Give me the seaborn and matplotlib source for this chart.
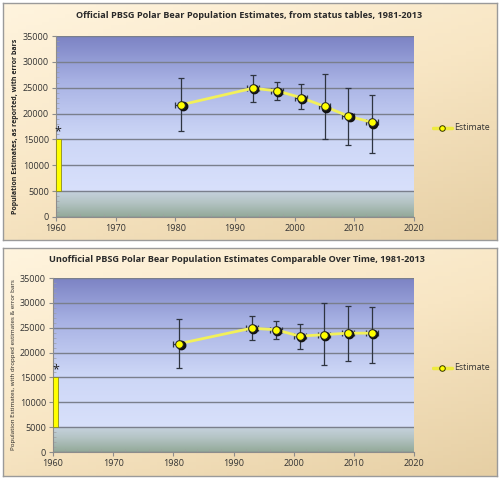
import numpy as np
import pandas as pd
import seaborn as sns
import matplotlib.pyplot as plt
import matplotlib.transforms as mtransforms
from matplotlib.colors import LinearSegmentedColormap

# official estimates (status tables)
years = [1981, 1993, 1997, 2001, 2005, 2009, 2013]
official = [21700, 24900, 24400, 23100, 21400, 19500, 18300]
official_lo = [16700, 22300, 22700, 20800, 15000, 14000, 12400]
official_hi = [26800, 27500, 26200, 25800, 27700, 25000, 23500]

# unofficial, comparable over time
unofficial = [21800, 24900, 24600, 23300, 23600, 23900, 23900]
unofficial_lo = [16800, 22500, 22800, 20800, 17400, 18400, 18000]
unofficial_hi = [26700, 27400, 26300, 25800, 30000, 29300, 29200]

x_err = 1  # years
early_year = 1960.4
early_range = [5000, 15000]

titles = ['Official PBSG Polar Bear Population Estimates, from status tables, 1981-2013',
          'Unofficial PBSG Polar Bear Population Estimates Comparable Over Time, 1981-2013']
ylabels = ['Population Estimates, as reported, with error bars',
           'Population Estimates, with dropped estimates & error bars']

sns.set_theme(style='white')
plt.rcParams['font.family'] = ['Open Sans', 'DejaVu Sans']

W, H = 500, 479
fig = plt.figure(figsize=(W / 100, H / 100), dpi=100)
fig.patch.set_facecolor('white')

panel_cmap = LinearSegmentedColormap.from_list('panel', ['#fff4de', '#f8e6c4', '#e6cfa4'])
plot_cmap = LinearSegmentedColormap.from_list(
    'plotbg', [(0.0, '#93a999'), (0.08, '#b4c4c4'), (0.142, '#c6d2de'), (0.145, '#d8e0fb'),
               (0.45, '#ccd6f6'), (0.75, '#a8b2e4'), (1.0, '#7c83c4')])

def px(x0, y0, x1, y1):
    # pixel box (top-left origin) to figure fraction rect
    return [x0 / W, 1 - y1 / H, (x1 - x0) / W, (y1 - y0) / H]

panels = [dict(box=(3, 3, 497, 240), axes=(56, 36, 414, 217), title_x=249, title_y=16,
               leg_y=128, yl_bold=True, yl_size=5.0),
          dict(box=(3, 248, 497, 476), axes=(53, 278, 414, 452), title_x=237, title_y=259,
               leg_y=368, yl_bold=False, yl_size=4.5)]

series = [(official, official_lo, official_hi), (unofficial, unofficial_lo, unofficial_hi)]

for i, (p, (est, lo, hi)) in enumerate(zip(panels, series)):
    # panel background with diagonal gradient
    bg = fig.add_axes(px(*p['box']), zorder=0)
    gx, gy = np.meshgrid(np.linspace(0, 1, 64), np.linspace(1, 0, 64))
    bg.imshow((gx * 0.4 + (1 - gy) * 0.6), cmap=panel_cmap, aspect='auto',
              extent=[0, 1, 0, 1], vmin=0, vmax=1)
    bg.set_xticks([])
    bg.set_yticks([])
    for s in bg.spines.values():
        s.set_color('#9a9a9a')
        s.set_linewidth(1)

    ax = fig.add_axes(px(*p['axes']), zorder=1)
    ax.patch.set_alpha(0)
    grad = np.linspace(1, 0, 256).reshape(-1, 1)
    ax.imshow(grad, cmap=plot_cmap, aspect='auto', extent=[0, 1, 0, 1],
              transform=ax.transAxes, zorder=0, vmin=0, vmax=1)

    df = pd.DataFrame({'year': years, 'estimate': est, 'lo': lo, 'hi': hi})
    yerr = np.vstack([df['estimate'] - df['lo'], df['hi'] - df['estimate']])

    # early range bar at 1960
    ax.bar([early_year], [early_range[1] - early_range[0]], bottom=early_range[0],
           width=0.8, color='#ffff00', edgecolor='#8a8a20', linewidth=0.6, zorder=3)
    ax.text(early_year, early_range[1] + 300, '*', ha='center', va='bottom',
            fontsize=9, color='#222222', zorder=4)

    ax.errorbar(df['year'], df['estimate'], yerr=yerr, xerr=x_err, fmt='none',
                ecolor='#2e3440', elinewidth=0.9, capsize=2.2, capthick=0.9, zorder=3)

    sns.lineplot(data=df, x='year', y='estimate', ax=ax, color='#f2f05a', linewidth=2,
                 zorder=4, label='_nolegend_')
    # shadow behind markers
    shadow = mtransforms.offset_copy(ax.transData, fig=fig, x=1.2, y=-1.2, units='dots')
    ax.plot(df['year'], df['estimate'], 'o', ms=6, color='#111111', transform=shadow,
            zorder=5)
    ax.plot(df['year'], df['estimate'], 'o', ms=5.5, mfc='#ffff00', mec='#222222',
            mew=0.7, zorder=6)

    ax.set_xlim(1960, 2020)
    ax.set_ylim(0, 35000)
    ax.set_xticks(range(1960, 2021, 10))
    ax.set_yticks(range(0, 35001, 5000))
    ax.set_xticks(range(1960, 2021, 2), minor=True)
    ax.set_yticks(range(0, 35001, 1000), minor=True)
    ax.grid(axis='y', color='#7a7f8c', linewidth=1, zorder=1)
    ax.set_axisbelow(True)
    for s in ['top', 'right']:
        ax.spines[s].set_visible(False)
    for s in ['left', 'bottom']:
        ax.spines[s].set_color('#8c8c8c')
        ax.spines[s].set_linewidth(0.8)
    ax.tick_params(axis='both', which='major', direction='out', length=3, width=0.8,
                   color='#8c8c8c', labelsize=6.5, labelcolor='#333333', pad=2)
    ax.tick_params(axis='both', which='minor', direction='in', length=2, width=0.5,
                   color='#a0a0a0')
    ax.tick_params(axis='x', which='both', bottom=True)
    ax.tick_params(axis='y', which='both', left=True)
    ax.set_xlabel('')
    ax.set_ylabel(ylabels[i], fontsize=p['yl_size'],
                  fontweight='bold' if p['yl_bold'] else 'normal', color='#222222',
                  labelpad=3)

    fig.text(p['title_x'] / W, 1 - p['title_y'] / H, titles[i],
             ha='center', va='center', fontsize=6.6, fontweight='bold', color='#2a2a2a')

    # legend entry
    lax = fig.add_axes(px(432, p['leg_y'] - 8, 497, p['leg_y'] + 8), zorder=2)
    lax.axis('off')
    lax.set_xlim(0, 1)
    lax.set_ylim(-1, 1)
    lax.plot([0.02, 0.30], [0, 0], color='#eeea40', linewidth=2.5, zorder=1)
    lax.plot([0.16], [0], 'o', ms=4, mfc='#ffff00', mec='#333300', mew=0.7, zorder=2)
    lax.text(0.34, 0, 'Estimate', va='center', ha='left', fontsize=6.3, color='#333333')

fig.savefig('out.png', dpi=100)
